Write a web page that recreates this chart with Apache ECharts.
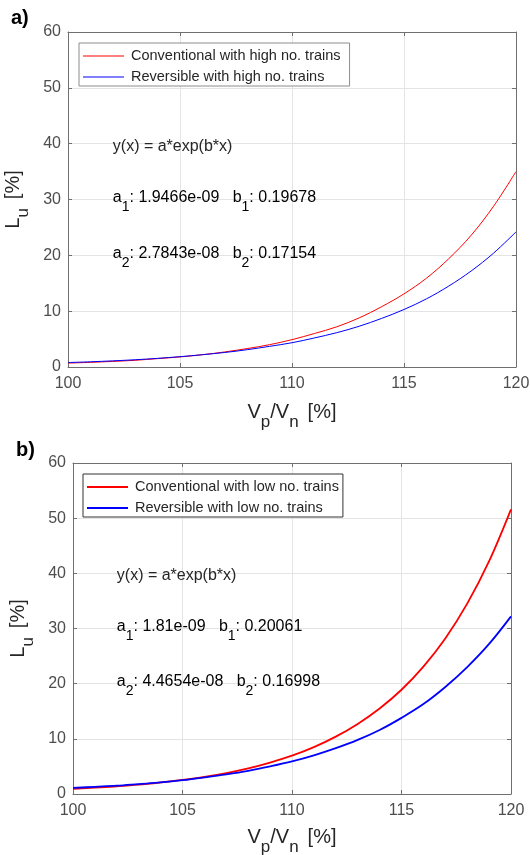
<!DOCTYPE html>
<html><head><meta charset="utf-8">
<script src="https://cdn.jsdelivr.net/npm/echarts@6/dist/echarts.min.js"></script>
<style>html,body{margin:0;padding:0;background:#fff}#c{width:530px;height:855px}</style>
</head><body><div id="c"></div>
<script>
// ---- data ----
const xValues = [100,101,102,103,104,105,106,107,108,109,110,111,112,113,114,115,116,117,118,119,120];
const xTicks = [100,105,110,115,120];
const yTicks = [0,10,20,30,40,50,60];
const convHigh = [0.7,0.83,1.0,1.2,1.5,1.8,2.2,2.7,3.3,4.0,4.9,6.0,7.2,8.8,10.8,13.1,15.9,19.4,23.6,28.8,35.0];
const revHigh  = [0.8,0.93,1.1,1.3,1.55,1.85,2.2,2.6,3.1,3.7,4.35,5.2,6.15,7.3,8.7,10.3,12.2,14.5,17.2,20.4,24.2];
const convLow  = [0.95,1.15,1.4,1.7,2.1,2.55,3.1,3.8,4.65,5.7,6.95,8.5,10.4,12.7,15.5,18.9,23.1,28.2,34.5,42.2,51.6];
const revLow   = [1.1,1.3,1.5,1.8,2.1,2.5,3.0,3.55,4.2,5.0,5.9,7.0,8.3,9.8,11.6,13.8,16.3,19.4,23.0,27.2,32.2];
const namesTop = ['Conventional with high no. trains','Reversible with high no. trains'];
const namesBottom = ['Conventional with low no. trains','Reversible with low no. trains'];
const fitEquation = 'y(x) = a*exp(b*x)';
const fitTopA = ['1.9466e-09','2.7843e-08'];
const fitTopB = ['0.19678','0.17154'];
const fitBottomA = ['1.81e-09','4.4654e-08'];
const fitBottomB = ['0.20061','0.16998'];
const panelLabels = ['a)','b)'];

// ---- styling ----
const FF = 'Liberation Sans, Arial, Helvetica, sans-serif';
const TXT = '#262626';
const TICK = '#4d4d4d';
const AXC = '#707070';
const GRIDC = '#e4e4e4';
const RED = '#ff0000', BLUE = '#0000ff';

const pairs = ys => xValues.map((x, i) => [x, ys[i]]);

const nameRich = {
  n: {fontSize: 20, fontFamily: FF, color: TXT},
  s: {fontSize: 17, fontFamily: FF, color: TXT, padding: [10, 0, -10, 0]},
  g: {fontSize: 20, fontFamily: FF, color: TXT, width: 9}
};

function xAxes(g, gap) {
  const base = {
    type: 'value', gridIndex: g, min: xTicks[0], max: xTicks[xTicks.length - 1],
    interval: xTicks[1] - xTicks[0],
    axisLine: {show: true, onZero: false, lineStyle: {color: AXC, width: 1}},
    axisTick: {show: true, inside: true, length: 4, lineStyle: {color: AXC}}
  };
  return [
    Object.assign({}, base, {
      position: 'bottom',
      axisLabel: {fontSize: 16, color: TICK, fontFamily: FF, margin: 9},
      splitLine: {show: true, lineStyle: {color: GRIDC, width: 1}},
      name: '{n|V}{s|p}{n|/V}{s|n}{g| }{n|[%]}', nameLocation: 'middle', nameGap: gap,
      nameTextStyle: {rich: nameRich}
    }),
    Object.assign({}, base, {
      position: 'top', axisLabel: {show: false}, splitLine: {show: false}
    })
  ];
}
function yAxes(g, gap) {
  const base = {
    type: 'value', gridIndex: g, min: yTicks[0], max: yTicks[yTicks.length - 1],
    interval: yTicks[1] - yTicks[0],
    axisLine: {show: true, onZero: false, lineStyle: {color: AXC, width: 1}},
    axisTick: {show: true, inside: true, length: 4, lineStyle: {color: AXC}}
  };
  return [
    Object.assign({}, base, {
      position: 'left',
      axisLabel: {fontSize: 16, color: TICK, fontFamily: FF, margin: 7},
      splitLine: {show: true, lineStyle: {color: GRIDC, width: 1}},
      name: '{n|L}{s|u}{g| }{n|[%]}', nameLocation: 'middle', nameGap: gap,
      nameTextStyle: {rich: nameRich}
    }),
    Object.assign({}, base, {
      position: 'right', axisLabel: {show: false}, splitLine: {show: false}
    })
  ];
}

function line(name, ys, xi, yi, color, w) {
  return {
    type: 'line', name, data: pairs(ys), xAxisIndex: xi, yAxisIndex: yi,
    showSymbol: false, symbol: 'none', smooth: 0.35, color: color,
    lineStyle: {color: color, width: w}, itemStyle: {color: color},
    emphasis: {disabled: true}, animation: false, z: 3
  };
}

const legendBase = {
  orient: 'vertical', icon: 'rect', itemWidth: 41, itemGap: 5,
  backgroundColor: '#fff', borderWidth: 1,
  textStyle: {fontSize: 14.5, fontFamily: FF, color: TXT, lineHeight: 16, padding: [0, 0, 0, 2]},
  selectedMode: false
};

const chart = echarts.init(document.getElementById('c'), null, {renderer: 'canvas'});
chart.setOption({
  backgroundColor: '#fff',
  animation: false,
  grid: [
    {left: 68, right: 14, top: 32, height: 335, outerBoundsMode: 'none', containLabel: false},
    {left: 73, right: 19, top: 463, height: 331, outerBoundsMode: 'none', containLabel: false}
  ],
  xAxis: xAxes(0, 35).concat(xAxes(1, 33)),
  yAxis: yAxes(0, 28).concat(yAxes(1, 26)),
  legend: [
    Object.assign({}, legendBase, {data: namesTop, left: 79, top: 43, itemHeight: 1,
      borderColor: '#8c8c8c', padding: [5, 9, 1, 4]}),
    Object.assign({}, legendBase, {data: namesBottom, left: 83, top: 474, itemHeight: 2,
      borderColor: '#333', padding: [5, 4, 1, 4]})
  ],
  series: [
    line(namesTop[0], convHigh, 0, 0, RED, 1),
    line(namesTop[1], revHigh, 0, 0, BLUE, 1),
    line(namesBottom[0], convLow, 2, 2, RED, 1.8),
    line(namesBottom[1], revLow, 2, 2, BLUE, 1.8)
  ]
});

// annotations placed through the axes' own scales
const annRich = {
  n: {fontSize: 16, fontFamily: FF, color: TXT},
  s: {fontSize: 14, fontFamily: FF, color: TXT, padding: [9, 0, -9, 0]}
};
function annotations(gi, A, B, xPos, yPos) {
  const out = [];
  const p0 = chart.convertToPixel({xAxisIndex: gi * 2, yAxisIndex: gi * 2}, [xPos, yPos[0]]);
  out.push({type: 'text', x: p0[0], y: p0[1], z: 10,
    style: {text: fitEquation, font: '16px ' + FF, fill: TXT, verticalAlign: 'middle'}});
  for (let k = 0; k < 2; k++) {
    const p = chart.convertToPixel({xAxisIndex: gi * 2, yAxisIndex: gi * 2}, [xPos, yPos[k + 1]]);
    out.push({type: 'text', x: p[0], y: p[1], z: 10,
      style: {
        text: '{n|a}{s|' + (k + 1) + '}{n|: ' + A[k] + '   b}{s|' + (k + 1) + '}{n|: ' + B[k] + '}',
        rich: annRich, verticalAlign: 'middle'
      }});
  }
  return out;
}
const graphics = []
  .concat(annotations(0, fitTopA, fitTopB, 102.0, [39.5, 30.3, 20.3]))
  .concat(annotations(1, fitBottomA, fitBottomB, 102.0, [39.6, 30.3, 20.3]))
  .concat([
    {type: 'text', left: 11, top: 8, style: {text: panelLabels[0], font: 'bold 20px ' + FF, fill: '#000'}},
    {type: 'text', left: 16, top: 440, style: {text: panelLabels[1], font: 'bold 20px ' + FF, fill: '#000'}}
  ]);
chart.setOption({graphic: graphics});
</script></body></html>
